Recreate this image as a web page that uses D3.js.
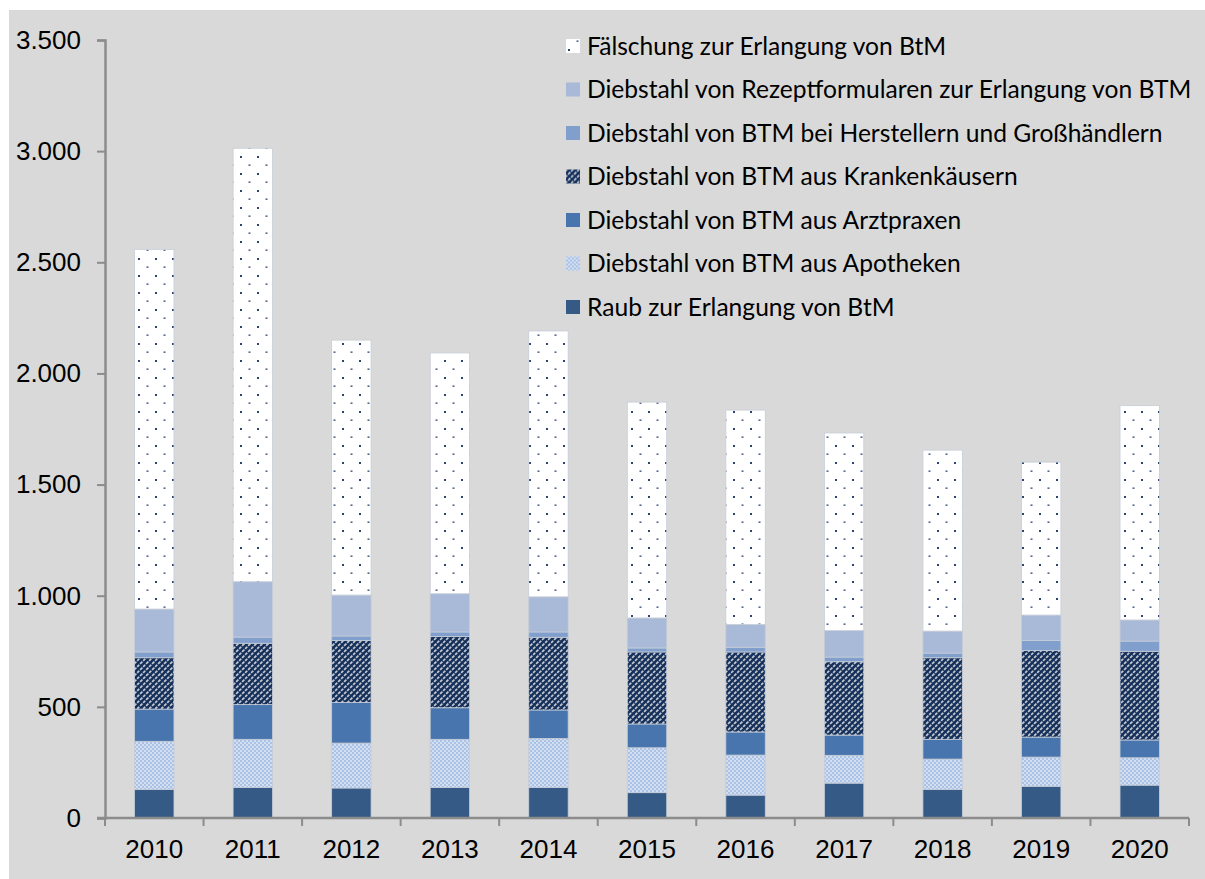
<!DOCTYPE html>
<html>
<head>
    <meta charset="utf-8" />
    <title>BtM</title>
    <style>
        body { margin: 0; background: #fff; }
        #chart { width: 1205px; height: 879px; }
    </style>
</head>
<body>
    <div id="chart"></div>
    <script src="https://cdn.jsdelivr.net/npm/d3@7"></script>
    <script>
        // values (cases per year)
        var years = ["2010", "2011", "2012", "2013", "2014", "2015", "2016", "2017", "2018", "2019", "2020"];
        var raub = [129, 138, 135, 138, 138, 114, 103, 157, 129, 143, 148];
        var apotheken = [216, 216, 202, 216, 220, 202, 180, 125, 136, 131, 123];
        var arztpraxen = [145, 156, 183, 142, 128, 107, 104, 91, 89, 90, 80];
        var krankenhaeuser = [231, 276, 279, 321, 327, 324, 360, 330, 367, 389, 399];
        var hersteller = [26, 28, 20, 20, 24, 18, 21, 21, 21, 46, 46];
        var rezeptformulare = [193, 249, 184, 172, 158, 135, 103, 119, 99, 114, 95];
        var faelschung = [1618, 1950, 1147, 1083, 1196, 971, 964, 889, 814, 688, 964];
        var yTicks = [0, 500, 1000, 1500, 2000, 2500, 3000, 3500];

        var series = [
            { key: "raub", name: "Raub zur Erlangung von BtM", values: raub, fill: "#355a86" },
            { key: "apo", name: "Diebstahl von BTM aus Apotheken", values: apotheken, fill: "url(#pat-apo)" },
            { key: "arzt", name: "Diebstahl von BTM aus Arztpraxen", values: arztpraxen, fill: "#4875ad" },
            { key: "kranken", name: "Diebstahl von BTM aus Krankenkäusern", values: krankenhaeuser, fill: "url(#pat-kranken)" },
            { key: "herst", name: "Diebstahl von BTM bei Herstellern und Großhändlern", values: hersteller, fill: "#819fcd" },
            { key: "rezept", name: "Diebstahl von Rezeptformularen zur Erlangung von BTM", values: rezeptformulare, fill: "#a9b9d8" },
            { key: "faelsch", name: "Fälschung zur Erlangung von BtM", values: faelschung, fill: "url(#pat-dots)" }
        ];

        var table = years.map(function (y, i) {
            var row = { year: y };
            series.forEach(function (s) { row[s.key] = s.values[i]; });
            return row;
        });

        var width = 1205, height = 879;
        var margin = { left: 105, right: 16, top: 40, bottom: 61 };

        var svg = d3.select("#chart").append("svg")
            .attr("width", width)
            .attr("height", height);

        // patterns
        var defs = svg.append("defs");

        var dots = defs.append("pattern")
            .attr("id", "pat-dots")
            .attr("patternUnits", "userSpaceOnUse")
            .attr("width", 17).attr("height", 17);
        dots.append("rect").attr("width", 17).attr("height", 17).attr("fill", "#fff");
        dots.append("rect").attr("x", 2).attr("y", 3).attr("width", 2).attr("height", 2).attr("fill", "#2c4570");
        dots.append("rect").attr("x", 10.5).attr("y", 11.5).attr("width", 2).attr("height", 1.3).attr("fill", "#2c4570");

        var apo = defs.append("pattern")
            .attr("id", "pat-apo")
            .attr("patternUnits", "userSpaceOnUse")
            .attr("width", 4).attr("height", 4);
        apo.append("rect").attr("width", 4).attr("height", 4).attr("fill", "#d3def0");
        apo.append("rect").attr("width", 2).attr("height", 2).attr("fill", "#aac2e6");
        apo.append("rect").attr("x", 2).attr("y", 2).attr("width", 2).attr("height", 2).attr("fill", "#aac2e6");

        var kr = defs.append("pattern")
            .attr("id", "pat-kranken")
            .attr("patternUnits", "userSpaceOnUse")
            .attr("width", 6).attr("height", 6);
        kr.append("rect").attr("width", 6).attr("height", 6).attr("fill", "#15305b");
        kr.append("path")
            .attr("d", "M-1,7 L7,-1 M-4,4 L4,-4 M2,10 L10,2")
            .attr("stroke", "#c3c8d0")
            .attr("stroke-width", 1.7)
            .attr("stroke-dasharray", "3.2,1.2");

        // background
        svg.append("rect")
            .attr("x", 9).attr("y", 10)
            .attr("width", width - 9).attr("height", height - 10)
            .attr("fill", "#d9d9d9");

        var x = d3.scaleBand()
            .domain(years)
            .range([margin.left, width - margin.right])
            .paddingInner(0.6)
            .paddingOuter(0.3);

        var y = d3.scaleLinear()
            .domain([0, 3500])
            .range([height - margin.bottom, margin.top]);

        var stack = d3.stack().keys(series.map(function (s) { return s.key; }));
        var layers = stack(table);

        svg.append("g")
            .selectAll("g")
            .data(layers)
            .join("g")
            .attr("fill", function (d, i) { return series[i].fill; })
            .selectAll("rect")
            .data(function (d) { return d; })
            .join("rect")
            .attr("x", function (d) { return x(d.data.year); })
            .attr("y", function (d) { return y(d[1]); })
            .attr("width", x.bandwidth())
            .attr("height", function (d) { return y(d[0]) - y(d[1]); })
            .attr("stroke", "#c6cdd8")
            .attr("stroke-width", 0.8);

        // y axis
        var yAxis = svg.append("g")
            .attr("transform", "translate(" + margin.left + ",0)")
            .call(d3.axisLeft(y)
                .tickValues(yTicks)
                .tickSize(8)
                .tickPadding(16)
                .tickFormat(function (d) { return d3.format(",")(d).replace(/,/g, "."); }));
        yAxis.selectAll("line").attr("stroke", "#8c8c8c").attr("stroke-width", 2);
        yAxis.select(".domain").attr("stroke", "#8c8c8c").attr("stroke-width", 2.5);
        yAxis.selectAll("text")
            .attr("font-family", "Liberation Sans, Arial, sans-serif")
            .attr("font-size", 26)
            .attr("fill", "#000");

        // x axis with ticks between categories
        var xAxis = svg.append("g")
            .attr("transform", "translate(0," + y(0) + ")")
            .call(d3.axisBottom(x).tickSize(0).tickPadding(22));
        xAxis.select(".domain").attr("stroke", "#8c8c8c").attr("stroke-width", 2.5)
            .attr("d", "M" + (margin.left - 8) + ",0H" + (width - margin.right));
        xAxis.selectAll("text")
            .attr("font-family", "Liberation Sans, Arial, sans-serif")
            .attr("font-size", 26)
            .attr("fill", "#000");
        var step = x.step();
        var edges = [margin.left].concat(years.map(function (yr) { return x(yr) + x.bandwidth() + (step - x.bandwidth()) / 2; }));
        xAxis.selectAll(".sep")
            .data(edges)
            .join("line")
            .attr("class", "sep")
            .attr("x1", function (d) { return d; })
            .attr("x2", function (d) { return d; })
            .attr("y1", 0)
            .attr("y2", 8)
            .attr("stroke", "#8c8c8c")
            .attr("stroke-width", 2);

        // legend
        var legend = svg.append("g")
            .selectAll("g")
            .data(series.slice().reverse())
            .join("g")
            .attr("transform", function (d, i) { return "translate(566," + (46 + i * 43.5) + ")"; });
        legend.append("rect")
            .attr("x", 0).attr("y", -7)
            .attr("width", 14).attr("height", 14)
            .attr("fill", function (d) { return d.fill; });
        legend.append("text")
            .attr("x", 21)
            .attr("dy", "0.35em")
            .attr("font-family", "Lato, sans-serif")
            .attr("font-size", 24.6)
            .attr("fill", "#000")
            .text(function (d) { return d.name; });
    </script>
</body>
</html>
